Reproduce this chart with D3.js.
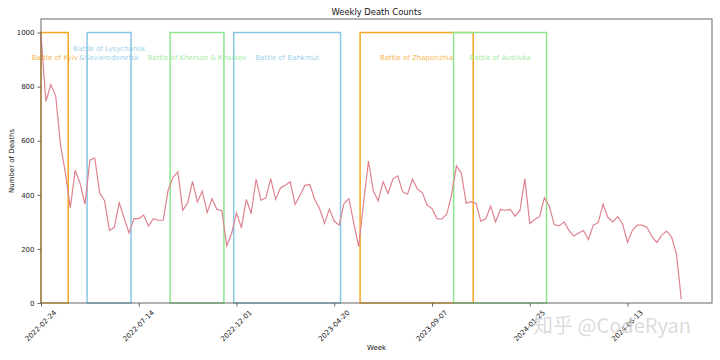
<!DOCTYPE html>
<html>
<head>
<meta charset="utf-8">
<script src="https://cdn.jsdelivr.net/npm/d3@7"></script>
<style>
  html, body { margin: 0; padding: 0; background: #fff; }
  svg { display: block; font-family: "DejaVu Sans", sans-serif; }
</style>
</head>
<body>
<svg id="chart" width="720" height="360"></svg>
<script>
// ---------- data ----------
const firstWeek = "2022-02-24";
const deaths = [
  990, 745, 807, 767, 583, 480, 352, 491, 443, 365,
  528, 536, 407, 378, 269, 279, 370, 315, 259, 312,
  312, 325, 285, 312, 306, 306, 417, 464, 485, 343,
  370, 450, 374, 413, 335, 386, 346, 341, 211, 257,
  333, 278, 383, 331, 458, 380, 389, 460, 383, 425,
  435, 448, 364, 398, 435, 438, 383, 349, 294, 347,
  303, 288, 368, 386, 294, 208, 370, 525, 414, 378,
  448, 405, 458, 470, 411, 402, 458, 421, 408, 362,
  349, 312, 310, 328, 400, 507, 480, 369, 375, 368,
  302, 312, 358, 300, 346, 343, 346, 321, 343, 459,
  294, 309, 319, 389, 358, 290, 285, 300, 269, 248,
  259, 268, 235, 288, 297, 365, 316, 300, 319, 292,
  224, 269, 288, 288, 279, 245, 224, 251, 266, 245,
  183, 14
];
const xTickLabels = ["2022-02-24", "2022-07-14", "2022-12-01", "2023-04-20", "2023-09-07", "2024-01-25", "2024-06-13"];
const yTicks = [0, 200, 400, 600, 800, 1000];

const battleNames  = ["Battle of Kyiv", "Battle of Lysychansk\n&Sevierodonetsk", "Battle of Kherson & Kharkov", "Battle of Bahkmut", "Battle of Zhaporizhia", "Battle of Avdiivka"];
const battleStarts = ["2022-02-24", "2022-05-01", "2022-08-28", "2022-11-27", "2023-05-27", "2023-10-08"];
const battleEnds   = ["2022-04-04", "2022-07-03", "2022-11-13", "2023-04-29", "2023-11-05", "2024-02-18"];
const battleHeight = 1000;
const battleColors = ["#f5a623", "#87c6e6", "#8ee68e", "#87c6e6", "#f5a623", "#8ee68e"];

const xDomainEnd = "2024-10-12";
const yMax = 1050;

// ---------- setup ----------
const parse = d3.utcParse("%Y-%m-%d");
const start = parse(firstWeek);
const weeks = deaths.map((_, i) => d3.utcDay.offset(start, 7 * i));
const series = deaths.map((v, i) => ({ date: weeks[i], value: v }));

const svg = d3.select("#chart");
const m = { left: 41, right: 712, top: 19, bottom: 303 };

const x = d3.scaleUtc().domain([start, parse(xDomainEnd)]).range([m.left, m.right]);
const y = d3.scaleLinear().domain([0, yMax]).range([m.bottom, m.top]);

// battle rectangles
const battles = battleNames.map((n, i) => ({
  name: n, s: parse(battleStarts[i]), e: parse(battleEnds[i]), color: battleColors[i]
}));

svg.append("g").selectAll("rect").data(battles).join("rect")
  .attr("x", d => x(d.s))
  .attr("y", y(battleHeight))
  .attr("width", d => x(d.e) - x(d.s))
  .attr("height", y(0) - y(battleHeight))
  .attr("fill", "none")
  .attr("stroke", d => d.color)
  .attr("stroke-width", 1.5);

// line
svg.append("path")
  .datum(series)
  .attr("fill", "none")
  .attr("stroke", "#df8390")
  .attr("stroke-width", 1.2)
  .attr("d", d3.line().x(d => x(d.date)).y(d => y(d.value)));

// battle labels
const labels = svg.append("g").attr("font-size", 7);
battles.forEach(b => {
  const lines = b.name.split("\n");
  const cx = (x(b.s) + x(b.e)) / 2;
  const baseY = y(battleHeight) + 25;
  const t = labels.append("text")
    .attr("text-anchor", "middle")
    .attr("fill", b.color)
    .attr("fill-opacity", 0.85);
  lines.forEach((ln, k) => {
    t.append("tspan")
      .attr("x", cx)
      .attr("y", baseY - (lines.length - 1 - k) * 8.3)
      .attr("dominant-baseline", "central")
      .text(ln);
  });
});

// axes frame
svg.append("rect")
  .attr("x", m.left).attr("y", m.top)
  .attr("width", m.right - m.left).attr("height", m.bottom - m.top)
  .attr("fill", "none").attr("stroke", "#666").attr("stroke-width", 1);

// y axis
const yAxis = d3.axisLeft(y).tickValues(yTicks).tickFormat(d3.format("d")).tickSize(3.5).tickPadding(3);
const gy = svg.append("g").attr("transform", `translate(${m.left},0)`).call(yAxis);
gy.select(".domain").remove();
gy.selectAll(".tick line").attr("stroke", "#666");
gy.selectAll(".tick text").attr("font-size", 7).attr("fill", "#222").attr("font-family", "DejaVu Sans");

// x axis
const xTickDates = xTickLabels.map(parse);
const xAxis = d3.axisBottom(x).tickValues(xTickDates).tickSize(3.5).tickFormat(() => "");
const gx = svg.append("g").attr("transform", `translate(0,${m.bottom})`).call(xAxis);
gx.select(".domain").remove();
gx.selectAll(".tick line").attr("stroke", "#666");
svg.append("g").selectAll("text").data(xTickLabels).join("text")
  .attr("transform", d => `translate(${x(parse(d))},${m.bottom + 23}) rotate(-45)`)
  .attr("text-anchor", "middle")
  .attr("dominant-baseline", "central")
  .attr("font-size", 7)
  .attr("fill", "#222")
  .text(d => d);

// titles
svg.append("text")
  .attr("x", (m.left + m.right) / 2).attr("y", 12)
  .attr("text-anchor", "middle").attr("dominant-baseline", "central")
  .attr("font-size", 8.4).attr("fill", "#111")
  .text("Weekly Death Counts");

svg.append("text")
  .attr("x", (m.left + m.right) / 2).attr("y", 348)
  .attr("text-anchor", "middle").attr("dominant-baseline", "central")
  .attr("font-size", 7).attr("fill", "#111")
  .text("Week");

svg.append("text")
  .attr("transform", `translate(12,${(m.top + m.bottom) / 2}) rotate(-90)`)
  .attr("text-anchor", "middle").attr("dominant-baseline", "central")
  .attr("font-size", 7).attr("fill", "#111")
  .text("Number of Deaths");

// watermark
svg.append("text")
  .attr("x", 533).attr("y", 333)
  .attr("font-family", "Noto Sans CJK SC, sans-serif")
  .attr("font-size", 20)
  .attr("fill", "#cfcfcf").attr("fill-opacity", 0.75)
  .text("知乎 @CodeRyan");
</script>
</body>
</html>
